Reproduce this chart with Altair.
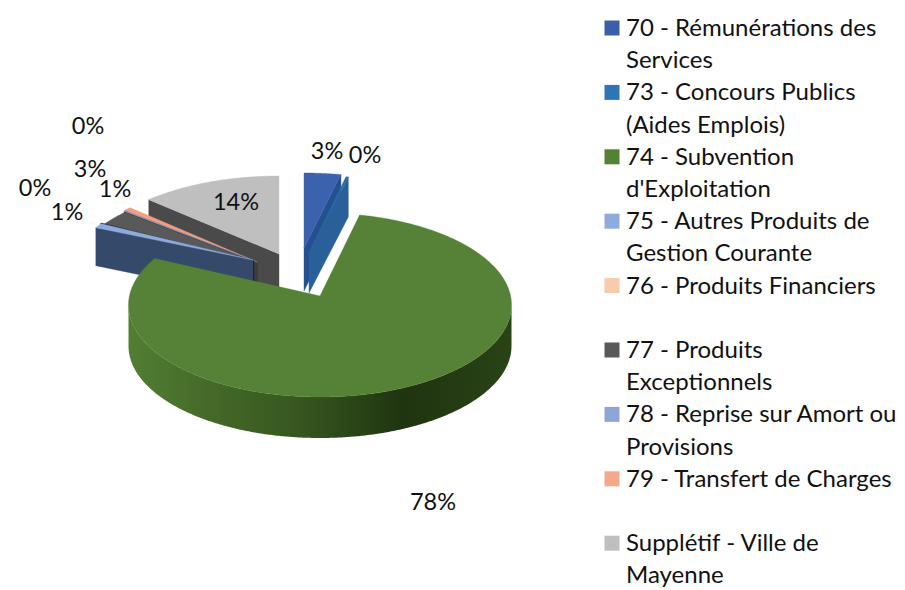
import numpy as np
import pandas as pd
import altair as alt

# ---- chart values ----
codes = ["70", "73", "74", "75", "76", "77", "78", "79", "S"]
values = [3.1, 0.2, 78.4, 0.8, 0.1, 2.6, 0.1, 0.6, 13.6]
legend_labels = [
    ["70 - Rémunérations des", "Services"],
    ["73 - Concours Publics", "(Aides Emplois)"],
    ["74 - Subvention", "d'Exploitation"],
    ["75 - Autres Produits de", "Gestion Courante"],
    ["76 - Produits Financiers", ""],
    ["77 - Produits", "Exceptionnels"],
    ["78 - Reprise sur Amort ou", "Provisions"],
    ["79 - Transfert de Charges", ""],
    ["Supplétif - Ville de", "Mayenne"],
]
legend_colors = ["#3a5ea8", "#2e75b6", "#548235", "#8faadc", "#f8cbad",
                 "#595959", "#8ea5d8", "#f4a98a", "#bfbfbf"]

# ---- drawing parameters (3-D view of the exploded pie) ----
FACE = dict(zip(codes, ["#3c62ae", "#2a6aa8", "#558236", "#8faadc", "#222222",
                        "#595959", "#8ea5d8", "#f0a080", "#bfbfbf"]))
WALL = dict(zip(codes, ["#24508f", "#2a6099", "#2e4a1a", "#35496b", "#1c1c1c",
                        "#3d3d3d", "#222222", "#a06a50", "#4a4a4a"]))
APEX = {"70": (304, 248), "73": (309, 253), "74": (320, 296), "75": (253, 260),
        "76": (254, 261), "77": (258, 263), "78": (257, 262), "79": (257, 262),
        "S": (279, 254)}
RADII = {"70": (190, 84), "73": (190, 87), "74": (191.5, 92), "75": (182, 82),
         "76": (184, 84), "77": (185, 86), "78": (185, 86), "79": (185, 87),
         "S": (190, 87)}
DEPTH = {"70": 43, "73": 40, "74": 41, "75": 38, "76": 38, "77": 38, "78": 38,
         "79": 38, "S": 40}
CENTRE_SHIFT = 9
WARP = 6
label_pos = {"70": (327, 152), "73": (365, 156), "74": (433, 503), "75": (67, 213),
             "76": (35, 189), "77": (90, 170), "78": (88, 127), "79": (115, 190),
             "S": (236, 203)}

XS = alt.Scale(domain=[8, 897])
YS = alt.Scale(domain=[590, 8])


def warp(t):
    return t - WARP * np.sin(np.radians(2 * t)) if t > 180 else t


cum = np.cumsum([0] + values) / sum(values) * 360
ang = {c: (warp(cum[i]), warp(cum[i + 1])) for i, c in enumerate(codes)}


def arc(c, t0, t1):
    ax, ay = APEX[c]
    rx, ry = RADII[c]
    ts = np.radians(np.linspace(t0, t1, max(2, int(abs(t1 - t0) * 2) + 1)))
    return ax + rx * np.sin(ts), ay + CENTRE_SHIFT - ry * np.cos(ts)


def poly(xs, ys, fill):
    df = pd.DataFrame({"x": xs, "y": ys, "i": np.arange(len(xs))})
    stroke = fill if isinstance(fill, str) else "#2e4a1a"
    return alt.Chart(df).mark_line(
        fill=fill, stroke=stroke, strokeWidth=0.4 if isinstance(fill, str) else 0,
        clip=False,
    ).encode(
        x=alt.X("x:Q", scale=XS, axis=None),
        y=alt.Y("y:Q", scale=YS, axis=None),
        order=alt.Order("i:Q"),
    )


def face(c):
    t0, t1 = ang[c]
    xa, ya = arc(c, t0, t1)
    ax, ay = APEX[c]
    return poly([ax, *xa, ax], [ay, *ya, ay], FACE[c])


def radial_wall(c, t, colour=None):
    ax, ay = APEX[c]
    xa, ya = arc(c, t, t)
    d = DEPTH[c]
    return poly([ax, xa[0], xa[0], ax, ax], [ay, ya[0], ya[0] + d, ay + d, ay],
                colour or WALL[c])


green_rim = alt.LinearGradient(
    gradient="linear", x1=0, x2=1, y1=0, y2=0,
    stops=[
        alt.GradientStop(offset=0.0, color="#517f31"),
        alt.GradientStop(offset=0.2, color="#466a2a"),
        alt.GradientStop(offset=0.45, color="#36561f"),
        alt.GradientStop(offset=0.72, color="#1f3410"),
        alt.GradientStop(offset=1.0, color="#2a4316"),
    ],
)

layers = []
# top group: 70 and 73
layers.append(radial_wall("70", ang["70"][1]))
layers.append(face("70"))
layers.append(radial_wall("73", ang["73"][1]))
layers.append(face("73"))
# left group, back to front
for c in ["S", "79", "78", "77", "76", "75"]:
    layers.append(radial_wall(c, ang[c][0]))
    layers.append(face(c))
# main slice
xr, yr = arc("74", 270, 90)
layers.append(poly([*xr, *xr[::-1], xr[0]],
                   [*yr, *(yr[::-1] + DEPTH["74"]), yr[0]], green_rim))
layers.append(face("74"))

# value labels
lab = pd.DataFrame({
    "x": [label_pos[c][0] for c in codes],
    "y": [label_pos[c][1] for c in codes],
    "t": [f"{round(v)}%" for v in values],
})
FONT = "Lato"
layers.append(alt.Chart(lab).mark_text(
    font=FONT, fontSize=23.5, color="#111111", align="center", baseline="middle"
).encode(
    x=alt.X("x:Q", scale=XS, axis=None),
    y=alt.Y("y:Q", scale=YS, axis=None),
    text="t:N",
))

# legend
LINE0, PITCH = 28, 32.2
leg_sq = pd.DataFrame({
    "x": [612] * len(codes),
    "y": [LINE0 + 2 * PITCH * i for i in range(len(codes))],
    "c": legend_colors,
    "k": codes,
})
layers.append(alt.Chart(leg_sq).mark_square(size=225, opacity=1).encode(
    x=alt.X("x:Q", scale=XS, axis=None),
    y=alt.Y("y:Q", scale=YS, axis=None),
    fill=alt.Fill("c:N", scale=None),
    stroke=alt.value(None),
))
rows = []
for i, pair in enumerate(legend_labels):
    for j, s in enumerate(pair):
        if s:
            rows.append({"x": 626, "y": LINE0 + 1 + PITCH * (2 * i + j), "t": s})
layers.append(alt.Chart(pd.DataFrame(rows)).mark_text(
    font=FONT, fontSize=24, color="#111111", align="left", baseline="middle"
).encode(
    x=alt.X("x:Q", scale=XS, axis=None),
    y=alt.Y("y:Q", scale=YS, axis=None),
    text="t:N",
))

chart = alt.layer(*layers).properties(
    width=889, height=582, padding=0, autosize=alt.AutoSizeParams(type="none"),
).configure_view(stroke=None)
chart.save("out.html", embed_options={"renderer": "svg", "actions": False})
